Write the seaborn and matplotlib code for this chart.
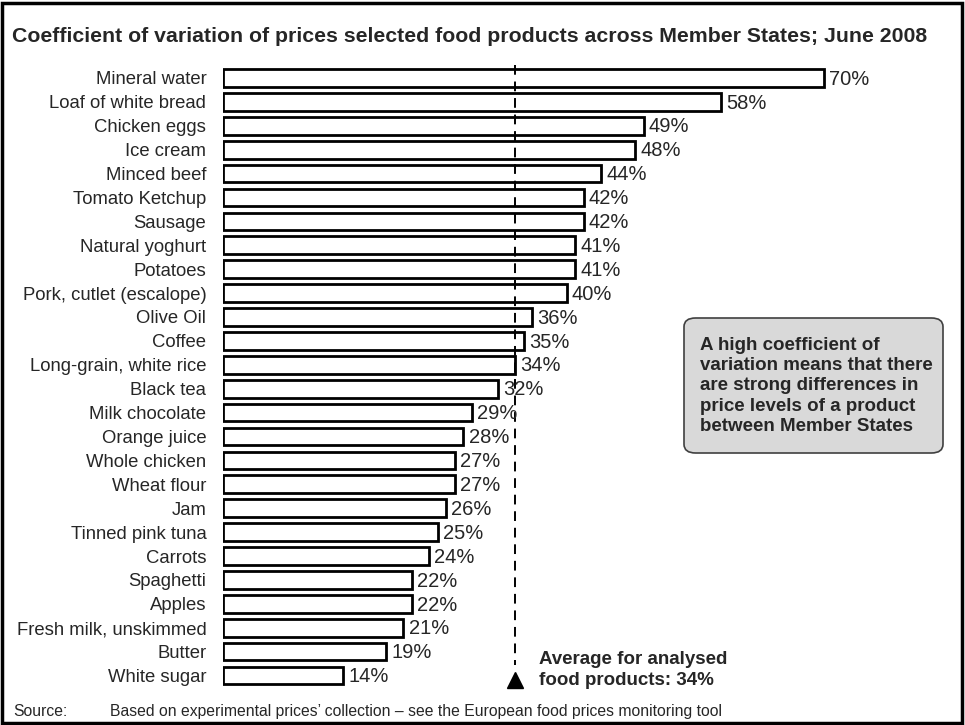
import matplotlib
matplotlib.use("Agg")
import matplotlib.pyplot as plt
import seaborn as sns
import pandas as pd
from matplotlib.patches import Rectangle, FancyBboxPatch

products = ["Mineral water", "Loaf of white bread", "Chicken eggs", "Ice cream", "Minced beef",
            "Tomato Ketchup", "Sausage", "Natural yoghurt", "Potatoes", "Pork, cutlet (escalope)",
            "Olive Oil", "Coffee", "Long-grain, white rice", "Black tea", "Milk chocolate",
            "Orange juice", "Whole chicken", "Wheat flour", "Jam", "Tinned pink tuna", "Carrots",
            "Spaghetti", "Apples", "Fresh milk, unskimmed", "Butter", "White sugar"]
cv = [70, 58, 49, 48, 44, 42, 42, 41, 41, 40, 36, 35, 34, 32, 29, 28, 27, 27, 26, 25,
      24, 22, 22, 21, 19, 14]
average = 34

df = pd.DataFrame({"product": products, "cv": cv})

sns.set_style("white")
plt.rcParams["font.family"] = ["Liberation Sans", "DejaVu Sans"]

W, H = 965, 725
fig = plt.figure(figsize=(W / 100, H / 100), dpi=100)
ax = fig.add_axes([223 / W, 1 - 687.5 / H, 730 / W, 621.5 / H])

sns.barplot(data=df, x="cv", y="product", orient="h", color="white", saturation=1,
            edgecolor="black", linewidth=2, width=0.74, ax=ax)
ax.set_xlim(0, 85)
ax.set_ylim(25.5, -0.5)
ax.set_xlabel("")
ax.set_ylabel("")
ax.set_xticks([])
ax.tick_params(axis="y", length=0, pad=12, labelsize=13.3)
for s in ax.spines.values():
    s.set_visible(False)

for i, v in enumerate(cv):
    ax.text(v + 0.6, i + 0.05, f"{v}%", va="center", ha="left", fontsize=14.5)

# average line and arrow
ax.plot([average, average], [-0.55, 24.55], color="black", lw=1.4, ls=(0, (5, 3.5)), clip_on=False)
ax.plot([average], [25.2], marker="^", ms=11, color="black", clip_on=False)
ax.text(average + 2.75, 24.78, "Average for analysed\nfood products: 34%", fontsize=13.5,
        fontweight="bold", va="center", ha="left", linespacing=1.28)

# title, note box and source
fig.text(12 / W, 1 - 36 / H, "Coefficient of variation of prices selected food products across Member States; June 2008",
         fontsize=15.3, fontweight="bold", va="center", ha="left")
box = FancyBboxPatch((684 / W, 1 - 453 / H), 259 / W, 135 / H, transform=fig.transFigure,
                     boxstyle="round,pad=0,rounding_size=0.012", facecolor="#d9d9d9",
                     edgecolor="#404040", lw=1.2)
fig.patches.append(box)
fig.text(700 / W, 1 - 386 / H,
         "A high coefficient of\nvariation means that there\nare strong differences in\nprice levels of a product\nbetween Member States",
         fontsize=13.5, fontweight="bold", va="center", ha="left", linespacing=1.26)
fig.text(13 / W, 1 - 716 / H, "Source:", fontsize=11.3, va="baseline", ha="left")
fig.text(110 / W, 1 - 716 / H,
         "Based on experimental prices\u2019 collection \u2013 see the European food prices monitoring tool",
         fontsize=11.3, va="baseline", ha="left")

fig.patches.append(Rectangle((2 / W, 2 / H), 960 / W, 720 / H, transform=fig.transFigure,
                             fill=False, edgecolor="black", lw=2.5))

fig.savefig("out.png", dpi=100)
